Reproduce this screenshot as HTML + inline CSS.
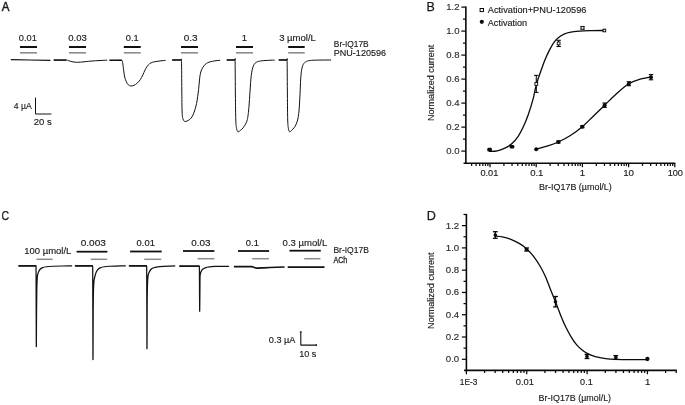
<!DOCTYPE html>
<html><head><meta charset="utf-8"><title>Figure</title>
<style>html,body{margin:0;padding:0;background:#fff}svg{display:block;will-change:transform}</style>
</head><body>
<svg width="685" height="405" viewBox="0 0 685 405" font-family="Liberation Sans, sans-serif">
<rect width="685" height="405" fill="#fff"/>
<text x="1.8" y="11" font-size="12.2" text-anchor="start" fill="#1a1a1a" textLength="7.7" lengthAdjust="spacingAndGlyphs" stroke="#1a1a1a" stroke-width="0.45">A</text>
<text x="426.4" y="11" font-size="12.2" text-anchor="start" fill="#1a1a1a" textLength="8.3" lengthAdjust="spacingAndGlyphs" stroke="#1a1a1a" stroke-width="0.25">B</text>
<text x="1.5" y="220" font-size="12.2" text-anchor="start" fill="#1a1a1a" textLength="7.6" lengthAdjust="spacingAndGlyphs" stroke="#1a1a1a" stroke-width="0.25">C</text>
<text x="426.8" y="219.8" font-size="12.2" text-anchor="start" fill="#1a1a1a" textLength="9.1" lengthAdjust="spacingAndGlyphs" stroke="#1a1a1a" stroke-width="0.25">D</text>
<line x1="20.00" y1="47.00" x2="37.00" y2="47.00" stroke="#111" stroke-width="2" stroke-linecap="butt"/>
<line x1="20.00" y1="52.80" x2="37.00" y2="52.80" stroke="#8c8c8c" stroke-width="1.6" stroke-linecap="butt"/>
<text x="18.8" y="40.8" font-size="9.6" text-anchor="start" fill="#1a1a1a" textLength="18.0" lengthAdjust="spacingAndGlyphs"  stroke="#1a1a1a" stroke-width="0.15">0.01</text>
<line x1="69.00" y1="47.00" x2="86.00" y2="47.00" stroke="#111" stroke-width="2" stroke-linecap="butt"/>
<line x1="69.00" y1="52.80" x2="86.00" y2="52.80" stroke="#8c8c8c" stroke-width="1.6" stroke-linecap="butt"/>
<text x="68.3" y="40.8" font-size="9.6" text-anchor="start" fill="#1a1a1a" textLength="18.5" lengthAdjust="spacingAndGlyphs"  stroke="#1a1a1a" stroke-width="0.15">0.03</text>
<line x1="123.80" y1="47.00" x2="140.70" y2="47.00" stroke="#111" stroke-width="2" stroke-linecap="butt"/>
<line x1="123.80" y1="52.80" x2="140.70" y2="52.80" stroke="#8c8c8c" stroke-width="1.6" stroke-linecap="butt"/>
<text x="125.8" y="40.8" font-size="9.6" text-anchor="start" fill="#1a1a1a" textLength="12.9" lengthAdjust="spacingAndGlyphs"  stroke="#1a1a1a" stroke-width="0.15">0.1</text>
<line x1="181.00" y1="47.00" x2="198.00" y2="47.00" stroke="#111" stroke-width="2" stroke-linecap="butt"/>
<line x1="181.00" y1="52.80" x2="198.00" y2="52.80" stroke="#8c8c8c" stroke-width="1.6" stroke-linecap="butt"/>
<text x="183.7" y="40.8" font-size="9.6" text-anchor="start" fill="#1a1a1a" textLength="13.9" lengthAdjust="spacingAndGlyphs"  stroke="#1a1a1a" stroke-width="0.15">0.3</text>
<line x1="236.00" y1="47.00" x2="253.00" y2="47.00" stroke="#111" stroke-width="2" stroke-linecap="butt"/>
<line x1="236.00" y1="52.80" x2="253.00" y2="52.80" stroke="#8c8c8c" stroke-width="1.6" stroke-linecap="butt"/>
<text x="244.5" y="40.8" font-size="9.6" text-anchor="middle" fill="#1a1a1a"  stroke="#1a1a1a" stroke-width="0.15">1</text>
<line x1="288.20" y1="47.00" x2="304.70" y2="47.00" stroke="#111" stroke-width="2" stroke-linecap="butt"/>
<line x1="288.20" y1="52.80" x2="304.70" y2="52.80" stroke="#8c8c8c" stroke-width="1.6" stroke-linecap="butt"/>
<text x="279.2" y="40.8" font-size="9.6" text-anchor="start" fill="#1a1a1a" textLength="36.7" lengthAdjust="spacingAndGlyphs"  stroke="#1a1a1a" stroke-width="0.15">3 µmol/L</text>
<path d="M11.30,59.70 L30.00,60.00 L50.00,60.30" fill="none" stroke="#111" stroke-width="1.2" stroke-linejoin="round" stroke-linecap="round" />
<path d="M53.90,60.10 C54.92,60.10 57.93,60.10 60.00,60.10 C62.07,60.10 64.80,59.98 66.30,60.10 C67.80,60.22 68.05,60.53 69.00,60.80 C69.95,61.07 70.73,61.45 72.00,61.70 C73.27,61.95 74.93,62.25 76.60,62.30 C78.27,62.35 79.62,62.20 82.00,62.00 C84.38,61.80 87.90,61.35 90.90,61.10 C93.90,60.85 97.37,60.65 100.00,60.50 C102.63,60.35 105.58,60.25 106.70,60.20" fill="none" stroke="#111" stroke-width="1.0" stroke-linejoin="round" stroke-linecap="round" />
<line x1="53.90" y1="60.10" x2="66.30" y2="60.10" stroke="#111" stroke-width="1.4" stroke-linecap="butt"/>
<path d="M109.70,60.30 C110.75,60.30 114.02,60.30 116.00,60.30 C117.98,60.30 120.50,59.95 121.60,60.30 C122.70,60.65 122.25,60.67 122.60,62.40 C122.95,64.13 123.35,68.27 123.70,70.70 C124.05,73.13 124.27,75.18 124.70,77.00 C125.13,78.82 125.70,80.30 126.30,81.60 C126.90,82.90 127.53,84.07 128.30,84.80 C129.07,85.53 129.95,85.92 130.90,86.00 C131.85,86.08 132.95,85.77 134.00,85.30 C135.05,84.83 136.15,84.15 137.20,83.20 C138.25,82.25 139.35,80.98 140.30,79.60 C141.25,78.22 142.13,76.47 142.90,74.90 C143.67,73.33 144.22,71.58 144.90,70.20 C145.58,68.82 146.22,67.68 147.00,66.60 C147.78,65.52 148.65,64.43 149.60,63.70 C150.55,62.97 151.48,62.58 152.70,62.20 C153.92,61.82 155.52,61.63 156.90,61.40 C158.28,61.17 159.62,60.97 161.00,60.80 C162.38,60.63 164.50,60.47 165.20,60.40" fill="none" stroke="#111" stroke-width="1.0" stroke-linejoin="round" stroke-linecap="round" />
<line x1="109.70" y1="60.30" x2="121.80" y2="60.30" stroke="#111" stroke-width="1.4" stroke-linecap="butt"/>
<path d="M172.30,60.00 C173.68,60.00 179.07,59.75 180.60,60.00 C182.13,60.25 181.30,56.50 181.50,61.50 C181.70,66.50 181.70,81.58 181.80,90.00 C181.90,98.42 181.90,107.17 182.10,112.00 C182.30,116.83 182.55,117.42 183.00,119.00 C183.45,120.58 184.13,121.17 184.80,121.50 C185.47,121.83 186.18,121.33 187.00,121.00 C187.82,120.67 188.87,120.20 189.70,119.50 C190.53,118.80 191.33,117.85 192.00,116.80 C192.67,115.75 193.15,114.58 193.70,113.20 C194.25,111.82 194.82,110.15 195.30,108.50 C195.78,106.85 196.20,105.30 196.60,103.30 C197.00,101.30 197.37,98.80 197.70,96.50 C198.03,94.20 198.33,91.92 198.60,89.50 C198.87,87.08 199.07,84.30 199.30,82.00 C199.53,79.70 199.70,77.53 200.00,75.70 C200.30,73.87 200.67,72.32 201.10,71.00 C201.53,69.68 202.07,68.75 202.60,67.80 C203.13,66.85 203.65,66.03 204.30,65.30 C204.95,64.57 205.72,63.92 206.50,63.40 C207.28,62.88 208.02,62.55 209.00,62.20 C209.98,61.85 211.23,61.55 212.40,61.30 C213.57,61.05 214.77,60.87 216.00,60.70 C217.23,60.53 219.17,60.37 219.80,60.30" fill="none" stroke="#111" stroke-width="1.0" stroke-linejoin="round" stroke-linecap="round" />
<line x1="172.30" y1="60.00" x2="181.20" y2="60.00" stroke="#111" stroke-width="1.4" stroke-linecap="butt"/>
<path d="M226.90,60.00 C228.18,60.00 233.23,59.75 234.60,60.00 C235.97,60.25 234.97,55.67 235.10,61.50 C235.23,67.33 235.28,85.25 235.40,95.00 C235.52,104.75 235.60,114.42 235.80,120.00 C236.00,125.58 236.23,126.53 236.60,128.50 C236.97,130.47 237.35,131.50 238.00,131.80 C238.65,132.10 239.65,130.97 240.50,130.30 C241.35,129.63 242.18,128.97 243.10,127.80 C244.02,126.63 245.30,124.68 246.00,123.30 C246.70,121.92 246.93,120.98 247.30,119.50 C247.67,118.02 247.90,116.82 248.20,114.40 C248.50,111.98 248.83,108.33 249.10,105.00 C249.37,101.67 249.58,97.57 249.80,94.40 C250.02,91.23 250.22,88.58 250.40,86.00 C250.58,83.42 250.68,81.15 250.90,78.90 C251.12,76.65 251.40,74.35 251.70,72.50 C252.00,70.65 252.33,69.08 252.70,67.80 C253.07,66.52 253.47,65.62 253.90,64.80 C254.33,63.98 254.73,63.40 255.30,62.90 C255.87,62.40 256.55,62.10 257.30,61.80 C258.05,61.50 258.52,61.32 259.80,61.10 C261.08,60.88 262.60,60.67 265.00,60.50 C267.40,60.33 272.67,60.17 274.20,60.10" fill="none" stroke="#111" stroke-width="1.0" stroke-linejoin="round" stroke-linecap="round" />
<line x1="226.90" y1="60.00" x2="235.00" y2="60.00" stroke="#111" stroke-width="1.4" stroke-linecap="butt"/>
<path d="M278.90,60.00 C280.18,60.00 285.23,59.75 286.60,60.00 C287.97,60.25 286.97,55.67 287.10,61.50 C287.23,67.33 287.30,85.25 287.40,95.00 C287.50,104.75 287.53,114.42 287.70,120.00 C287.87,125.58 288.08,126.53 288.40,128.50 C288.72,130.47 289.03,131.52 289.60,131.80 C290.17,132.08 291.07,130.87 291.80,130.20 C292.53,129.53 293.33,128.67 294.00,127.80 C294.67,126.93 295.25,126.12 295.80,125.00 C296.35,123.88 296.88,122.52 297.30,121.10 C297.72,119.68 298.00,118.35 298.30,116.50 C298.60,114.65 298.88,112.42 299.10,110.00 C299.32,107.58 299.45,104.60 299.60,102.00 C299.75,99.40 299.88,97.07 300.00,94.40 C300.12,91.73 300.23,88.58 300.35,86.00 C300.47,83.42 300.56,81.07 300.70,78.90 C300.84,76.73 301.02,74.67 301.20,73.00 C301.38,71.33 301.53,70.17 301.80,68.90 C302.07,67.63 302.43,66.33 302.80,65.40 C303.17,64.47 303.55,63.87 304.00,63.30 C304.45,62.73 304.95,62.37 305.50,62.00 C306.05,61.63 306.55,61.35 307.30,61.10 C308.05,60.85 308.88,60.65 310.00,60.50 C311.12,60.35 312.00,60.28 314.00,60.20 C316.00,60.12 319.22,60.08 322.00,60.05 C324.78,60.02 329.25,60.01 330.70,60.00" fill="none" stroke="#111" stroke-width="1.0" stroke-linejoin="round" stroke-linecap="round" />
<line x1="278.90" y1="60.00" x2="287.00" y2="60.00" stroke="#111" stroke-width="1.4" stroke-linecap="butt"/>
<text x="333.8" y="46.6" font-size="9.6" text-anchor="start" fill="#1a1a1a" textLength="34.9" lengthAdjust="spacingAndGlyphs"  stroke="#1a1a1a" stroke-width="0.15">Br-IQ17B</text>
<text x="333.8" y="56" font-size="9.6" text-anchor="start" fill="#1a1a1a" textLength="52.2" lengthAdjust="spacingAndGlyphs"  stroke="#1a1a1a" stroke-width="0.15">PNU-120596</text>
<path d="M35.5,98 L35.5,114 L51,114" fill="none" stroke="#111" stroke-width="1" stroke-linejoin="round" stroke-linecap="round" stroke-linecap="butt" stroke-linejoin="miter"/>
<text x="13.8" y="108.6" font-size="9.6" text-anchor="start" fill="#1a1a1a" textLength="18.0" lengthAdjust="spacingAndGlyphs"  stroke="#1a1a1a" stroke-width="0.15">4 µA</text>
<text x="33.8" y="124.6" font-size="9.6" text-anchor="start" fill="#1a1a1a" textLength="18.0" lengthAdjust="spacingAndGlyphs"  stroke="#1a1a1a" stroke-width="0.15">20 s</text>
<line x1="36.40" y1="259.30" x2="52.60" y2="259.30" stroke="#8c8c8c" stroke-width="1.5" stroke-linecap="butt"/>
<text x="24.2" y="254.1" font-size="9.6" text-anchor="start" fill="#1a1a1a" textLength="47.2" lengthAdjust="spacingAndGlyphs"  stroke="#1a1a1a" stroke-width="0.15">100 µmol/L</text>
<line x1="76.60" y1="251.70" x2="107.40" y2="251.70" stroke="#111" stroke-width="1.8" stroke-linecap="butt"/>
<line x1="90.70" y1="259.30" x2="107.20" y2="259.30" stroke="#8c8c8c" stroke-width="1.5" stroke-linecap="butt"/>
<text x="80.7" y="246" font-size="9.6" text-anchor="start" fill="#1a1a1a" textLength="25.1" lengthAdjust="spacingAndGlyphs"  stroke="#1a1a1a" stroke-width="0.15">0.003</text>
<line x1="130.10" y1="251.50" x2="161.70" y2="251.50" stroke="#111" stroke-width="1.8" stroke-linecap="butt"/>
<line x1="144.20" y1="259.30" x2="161.30" y2="259.30" stroke="#8c8c8c" stroke-width="1.5" stroke-linecap="butt"/>
<text x="136.6" y="246" font-size="9.6" text-anchor="start" fill="#1a1a1a" textLength="18.4" lengthAdjust="spacingAndGlyphs"  stroke="#1a1a1a" stroke-width="0.15">0.01</text>
<line x1="183.00" y1="251.00" x2="214.40" y2="251.00" stroke="#111" stroke-width="1.8" stroke-linecap="butt"/>
<line x1="197.60" y1="258.70" x2="214.40" y2="258.70" stroke="#8c8c8c" stroke-width="1.5" stroke-linecap="butt"/>
<text x="191.3" y="246" font-size="9.6" text-anchor="start" fill="#1a1a1a" textLength="19.2" lengthAdjust="spacingAndGlyphs"  stroke="#1a1a1a" stroke-width="0.15">0.03</text>
<line x1="238.00" y1="251.00" x2="269.10" y2="251.00" stroke="#111" stroke-width="1.8" stroke-linecap="butt"/>
<line x1="252.20" y1="258.70" x2="269.10" y2="258.70" stroke="#8c8c8c" stroke-width="1.5" stroke-linecap="butt"/>
<text x="245.8" y="246" font-size="9.6" text-anchor="start" fill="#1a1a1a" textLength="13.1" lengthAdjust="spacingAndGlyphs"  stroke="#1a1a1a" stroke-width="0.15">0.1</text>
<line x1="289.50" y1="250.70" x2="320.80" y2="250.70" stroke="#111" stroke-width="1.8" stroke-linecap="butt"/>
<line x1="304.20" y1="258.70" x2="320.50" y2="258.70" stroke="#8c8c8c" stroke-width="1.5" stroke-linecap="butt"/>
<text x="282.6" y="246" font-size="9.6" text-anchor="start" fill="#1a1a1a" textLength="44.7" lengthAdjust="spacingAndGlyphs"  stroke="#1a1a1a" stroke-width="0.15">0.3 µmol/L</text>
<path d="M18.70,265.85 L35.55,265.85 Q36.05,265.85 36.05,267.05 L36.30,346.50 L36.35,346.50 C36.38,340.56 36.47,320.29 36.55,310.85 C36.62,301.41 36.67,295.55 36.80,289.85 C36.93,284.15 37.08,279.57 37.35,276.65 C37.62,273.73 37.94,273.58 38.40,272.35 C38.86,271.12 39.38,270.05 40.10,269.25 C40.82,268.45 41.62,267.97 42.70,267.55 C43.78,267.13 44.96,266.97 46.60,266.75 C48.24,266.53 49.97,266.38 52.55,266.25 C55.12,266.12 58.88,266.05 62.05,266.00 C65.22,265.95 70.01,265.96 71.60,265.95" fill="none" stroke="#111" stroke-width="1.25" stroke-linejoin="round" stroke-linecap="round" stroke-linecap="butt" stroke-linejoin="miter"/>
<line x1="18.70" y1="265.85" x2="36.35" y2="265.85" stroke="#111" stroke-width="1.5" stroke-linecap="butt"/>
<path d="M75.20,265.85 L92.20,265.85 Q92.70,265.85 92.70,267.05 L92.95,359.50 L93.00,359.50 C93.03,351.39 93.12,322.46 93.20,310.85 C93.28,299.24 93.37,294.83 93.50,289.85 C93.63,284.87 93.73,283.30 94.00,280.95 C94.27,278.60 94.70,277.27 95.10,275.75 C95.50,274.23 95.90,272.93 96.40,271.85 C96.90,270.77 97.38,269.97 98.10,269.25 C98.82,268.53 99.68,267.97 100.70,267.55 C101.72,267.13 102.75,266.97 104.20,266.75 C105.65,266.53 107.38,266.37 109.40,266.25 C111.42,266.13 113.65,266.10 116.30,266.05 C118.95,266.00 123.80,265.97 125.30,265.95" fill="none" stroke="#111" stroke-width="1.25" stroke-linejoin="round" stroke-linecap="round" stroke-linecap="butt" stroke-linejoin="miter"/>
<line x1="75.20" y1="265.85" x2="93.00" y2="265.85" stroke="#111" stroke-width="1.5" stroke-linecap="butt"/>
<path d="M129.20,265.85 L146.20,265.85 Q146.70,265.85 146.70,267.05 L146.95,348.70 L147.00,348.70 C147.03,342.39 147.09,320.66 147.15,310.85 C147.21,301.04 147.22,295.55 147.35,289.85 C147.48,284.15 147.64,279.57 147.95,276.65 C148.26,273.73 148.69,273.58 149.20,272.35 C149.71,271.12 150.27,270.02 151.00,269.25 C151.73,268.48 152.52,268.15 153.60,267.75 C154.68,267.35 155.85,267.08 157.50,266.85 C159.15,266.62 161.30,266.48 163.50,266.35 C165.70,266.23 168.82,266.17 170.70,266.10 C172.58,266.03 174.12,265.98 174.80,265.95" fill="none" stroke="#111" stroke-width="1.25" stroke-linejoin="round" stroke-linecap="round" stroke-linecap="butt" stroke-linejoin="miter"/>
<line x1="129.20" y1="265.85" x2="147.00" y2="265.85" stroke="#111" stroke-width="1.5" stroke-linecap="butt"/>
<path d="M179.60,266.20 L198.90,266.20 Q199.40,266.20 199.40,267.40 L199.65,311.20 L199.70,311.20 C199.73,308.70 199.81,300.37 199.85,296.20 C199.89,292.03 199.91,289.62 199.95,286.20 C199.99,282.78 199.93,278.10 200.10,275.70 C200.27,273.30 200.57,272.88 201.00,271.80 C201.43,270.72 201.98,269.87 202.70,269.20 C203.42,268.53 204.22,268.18 205.30,267.80 C206.38,267.42 207.55,267.12 209.20,266.90 C210.85,266.67 213.17,266.55 215.20,266.45 C217.23,266.35 219.17,266.32 221.40,266.30 C223.63,266.28 227.40,266.30 228.60,266.30" fill="none" stroke="#111" stroke-width="1.25" stroke-linejoin="round" stroke-linecap="round" stroke-linecap="butt" stroke-linejoin="miter"/>
<line x1="179.60" y1="266.20" x2="199.70" y2="266.20" stroke="#111" stroke-width="1.5" stroke-linecap="butt"/>
<path d="M234.60,266.70 C236.33,266.70 242.13,266.70 245.00,266.70 C247.87,266.70 250.43,266.65 251.80,266.70 C253.17,266.75 252.70,266.83 253.20,267.00 C253.70,267.17 254.20,267.52 254.80,267.70 C255.40,267.88 255.77,268.06 256.80,268.10 C257.83,268.14 258.80,268.05 261.00,267.95 C263.20,267.85 266.17,267.66 270.00,267.50 C273.83,267.34 281.67,267.08 284.00,267.00" fill="none" stroke="#111" stroke-width="1.7" stroke-linejoin="round" stroke-linecap="round" stroke-linecap="butt"/>
<line x1="287.70" y1="267.10" x2="324.50" y2="267.10" stroke="#111" stroke-width="1.7" stroke-linecap="butt"/>
<text x="333.4" y="253.1" font-size="9.6" text-anchor="start" fill="#1a1a1a" textLength="35.5" lengthAdjust="spacingAndGlyphs"  stroke="#1a1a1a" stroke-width="0.15">Br-IQ17B</text>
<text x="333.4" y="263" font-size="9.6" text-anchor="start" fill="#1a1a1a" textLength="13.9" lengthAdjust="spacingAndGlyphs" stroke="#1a1a1a" stroke-width="0.3">ACh</text>
<path d="M300.8,332 L300.8,345.1 L316.3,345.1" fill="none" stroke="#111" stroke-width="1.1" stroke-linejoin="round" stroke-linecap="round" stroke-linecap="butt" stroke-linejoin="miter"/>
<line x1="299.80" y1="332.00" x2="301.80" y2="332.00" stroke="#111" stroke-width="1" stroke-linecap="butt"/>
<line x1="316.30" y1="344.10" x2="316.30" y2="346.10" stroke="#111" stroke-width="1" stroke-linecap="butt"/>
<text x="268.8" y="342.9" font-size="9.6" text-anchor="start" fill="#1a1a1a" textLength="26.6" lengthAdjust="spacingAndGlyphs"  stroke="#1a1a1a" stroke-width="0.15">0.3 µA</text>
<text x="299.2" y="357.2" font-size="9.6" text-anchor="start" fill="#1a1a1a" textLength="17.1" lengthAdjust="spacingAndGlyphs"  stroke="#1a1a1a" stroke-width="0.15">10 s</text>
<line x1="465.85" y1="6.40" x2="465.85" y2="164.10" stroke="#0a0a0a" stroke-width="1.6" stroke-linecap="butt"/>
<line x1="463.55" y1="163.30" x2="675.30" y2="163.30" stroke="#0a0a0a" stroke-width="1.6" stroke-linecap="butt"/>
<line x1="461.35" y1="151.10" x2="465.85" y2="151.10" stroke="#0a0a0a" stroke-width="1.25" stroke-linecap="butt"/>
<text x="459.6" y="153.9" font-size="9.6" text-anchor="end" fill="#2e2e2e" textLength="13.3" lengthAdjust="spacingAndGlyphs"  stroke="#2e2e2e" stroke-width="0.15">0.0</text>
<line x1="462.95" y1="139.10" x2="465.85" y2="139.10" stroke="#0a0a0a" stroke-width="1.25" stroke-linecap="butt"/>
<line x1="461.35" y1="127.10" x2="465.85" y2="127.10" stroke="#0a0a0a" stroke-width="1.25" stroke-linecap="butt"/>
<text x="459.6" y="129.9" font-size="9.6" text-anchor="end" fill="#2e2e2e" textLength="13.3" lengthAdjust="spacingAndGlyphs"  stroke="#2e2e2e" stroke-width="0.15">0.2</text>
<line x1="462.95" y1="115.10" x2="465.85" y2="115.10" stroke="#0a0a0a" stroke-width="1.25" stroke-linecap="butt"/>
<line x1="461.35" y1="103.10" x2="465.85" y2="103.10" stroke="#0a0a0a" stroke-width="1.25" stroke-linecap="butt"/>
<text x="459.6" y="105.89999999999999" font-size="9.6" text-anchor="end" fill="#2e2e2e" textLength="13.3" lengthAdjust="spacingAndGlyphs"  stroke="#2e2e2e" stroke-width="0.15">0.4</text>
<line x1="462.95" y1="91.10" x2="465.85" y2="91.10" stroke="#0a0a0a" stroke-width="1.25" stroke-linecap="butt"/>
<line x1="461.35" y1="79.10" x2="465.85" y2="79.10" stroke="#0a0a0a" stroke-width="1.25" stroke-linecap="butt"/>
<text x="459.6" y="81.89999999999998" font-size="9.6" text-anchor="end" fill="#2e2e2e" textLength="13.3" lengthAdjust="spacingAndGlyphs"  stroke="#2e2e2e" stroke-width="0.15">0.6</text>
<line x1="462.95" y1="67.10" x2="465.85" y2="67.10" stroke="#0a0a0a" stroke-width="1.25" stroke-linecap="butt"/>
<line x1="461.35" y1="55.10" x2="465.85" y2="55.10" stroke="#0a0a0a" stroke-width="1.25" stroke-linecap="butt"/>
<text x="459.6" y="57.89999999999999" font-size="9.6" text-anchor="end" fill="#2e2e2e" textLength="13.3" lengthAdjust="spacingAndGlyphs"  stroke="#2e2e2e" stroke-width="0.15">0.8</text>
<line x1="462.95" y1="43.10" x2="465.85" y2="43.10" stroke="#0a0a0a" stroke-width="1.25" stroke-linecap="butt"/>
<line x1="461.35" y1="31.10" x2="465.85" y2="31.10" stroke="#0a0a0a" stroke-width="1.25" stroke-linecap="butt"/>
<text x="459.6" y="33.89999999999999" font-size="9.6" text-anchor="end" fill="#2e2e2e" textLength="13.3" lengthAdjust="spacingAndGlyphs"  stroke="#2e2e2e" stroke-width="0.15">1.0</text>
<line x1="462.95" y1="19.10" x2="465.85" y2="19.10" stroke="#0a0a0a" stroke-width="1.25" stroke-linecap="butt"/>
<line x1="461.35" y1="7.10" x2="465.85" y2="7.10" stroke="#0a0a0a" stroke-width="1.25" stroke-linecap="butt"/>
<text x="459.6" y="9.899999999999967" font-size="9.6" text-anchor="end" fill="#2e2e2e" textLength="13.3" lengthAdjust="spacingAndGlyphs"  stroke="#2e2e2e" stroke-width="0.15">1.2</text>
<line x1="490.00" y1="163.30" x2="490.00" y2="167.20" stroke="#0a0a0a" stroke-width="1.25" stroke-linecap="butt"/>
<line x1="503.91" y1="163.30" x2="503.91" y2="165.90" stroke="#0a0a0a" stroke-width="1.25" stroke-linecap="butt"/>
<line x1="512.04" y1="163.30" x2="512.04" y2="165.90" stroke="#0a0a0a" stroke-width="1.25" stroke-linecap="butt"/>
<line x1="517.82" y1="163.30" x2="517.82" y2="165.90" stroke="#0a0a0a" stroke-width="1.25" stroke-linecap="butt"/>
<line x1="522.29" y1="163.30" x2="522.29" y2="165.90" stroke="#0a0a0a" stroke-width="1.25" stroke-linecap="butt"/>
<line x1="525.95" y1="163.30" x2="525.95" y2="165.90" stroke="#0a0a0a" stroke-width="1.25" stroke-linecap="butt"/>
<line x1="529.04" y1="163.30" x2="529.04" y2="165.90" stroke="#0a0a0a" stroke-width="1.25" stroke-linecap="butt"/>
<line x1="531.72" y1="163.30" x2="531.72" y2="165.90" stroke="#0a0a0a" stroke-width="1.25" stroke-linecap="butt"/>
<line x1="534.09" y1="163.30" x2="534.09" y2="165.90" stroke="#0a0a0a" stroke-width="1.25" stroke-linecap="butt"/>
<line x1="536.20" y1="163.30" x2="536.20" y2="167.20" stroke="#0a0a0a" stroke-width="1.25" stroke-linecap="butt"/>
<line x1="550.11" y1="163.30" x2="550.11" y2="165.90" stroke="#0a0a0a" stroke-width="1.25" stroke-linecap="butt"/>
<line x1="558.24" y1="163.30" x2="558.24" y2="165.90" stroke="#0a0a0a" stroke-width="1.25" stroke-linecap="butt"/>
<line x1="564.02" y1="163.30" x2="564.02" y2="165.90" stroke="#0a0a0a" stroke-width="1.25" stroke-linecap="butt"/>
<line x1="568.49" y1="163.30" x2="568.49" y2="165.90" stroke="#0a0a0a" stroke-width="1.25" stroke-linecap="butt"/>
<line x1="572.15" y1="163.30" x2="572.15" y2="165.90" stroke="#0a0a0a" stroke-width="1.25" stroke-linecap="butt"/>
<line x1="575.24" y1="163.30" x2="575.24" y2="165.90" stroke="#0a0a0a" stroke-width="1.25" stroke-linecap="butt"/>
<line x1="577.92" y1="163.30" x2="577.92" y2="165.90" stroke="#0a0a0a" stroke-width="1.25" stroke-linecap="butt"/>
<line x1="580.29" y1="163.30" x2="580.29" y2="165.90" stroke="#0a0a0a" stroke-width="1.25" stroke-linecap="butt"/>
<line x1="582.40" y1="163.30" x2="582.40" y2="167.20" stroke="#0a0a0a" stroke-width="1.25" stroke-linecap="butt"/>
<line x1="596.31" y1="163.30" x2="596.31" y2="165.90" stroke="#0a0a0a" stroke-width="1.25" stroke-linecap="butt"/>
<line x1="604.44" y1="163.30" x2="604.44" y2="165.90" stroke="#0a0a0a" stroke-width="1.25" stroke-linecap="butt"/>
<line x1="610.22" y1="163.30" x2="610.22" y2="165.90" stroke="#0a0a0a" stroke-width="1.25" stroke-linecap="butt"/>
<line x1="614.69" y1="163.30" x2="614.69" y2="165.90" stroke="#0a0a0a" stroke-width="1.25" stroke-linecap="butt"/>
<line x1="618.35" y1="163.30" x2="618.35" y2="165.90" stroke="#0a0a0a" stroke-width="1.25" stroke-linecap="butt"/>
<line x1="621.44" y1="163.30" x2="621.44" y2="165.90" stroke="#0a0a0a" stroke-width="1.25" stroke-linecap="butt"/>
<line x1="624.12" y1="163.30" x2="624.12" y2="165.90" stroke="#0a0a0a" stroke-width="1.25" stroke-linecap="butt"/>
<line x1="626.49" y1="163.30" x2="626.49" y2="165.90" stroke="#0a0a0a" stroke-width="1.25" stroke-linecap="butt"/>
<line x1="628.60" y1="163.30" x2="628.60" y2="167.20" stroke="#0a0a0a" stroke-width="1.25" stroke-linecap="butt"/>
<line x1="642.51" y1="163.30" x2="642.51" y2="165.90" stroke="#0a0a0a" stroke-width="1.25" stroke-linecap="butt"/>
<line x1="650.64" y1="163.30" x2="650.64" y2="165.90" stroke="#0a0a0a" stroke-width="1.25" stroke-linecap="butt"/>
<line x1="656.42" y1="163.30" x2="656.42" y2="165.90" stroke="#0a0a0a" stroke-width="1.25" stroke-linecap="butt"/>
<line x1="660.89" y1="163.30" x2="660.89" y2="165.90" stroke="#0a0a0a" stroke-width="1.25" stroke-linecap="butt"/>
<line x1="664.55" y1="163.30" x2="664.55" y2="165.90" stroke="#0a0a0a" stroke-width="1.25" stroke-linecap="butt"/>
<line x1="667.64" y1="163.30" x2="667.64" y2="165.90" stroke="#0a0a0a" stroke-width="1.25" stroke-linecap="butt"/>
<line x1="670.32" y1="163.30" x2="670.32" y2="165.90" stroke="#0a0a0a" stroke-width="1.25" stroke-linecap="butt"/>
<line x1="672.69" y1="163.30" x2="672.69" y2="165.90" stroke="#0a0a0a" stroke-width="1.25" stroke-linecap="butt"/>
<line x1="674.80" y1="163.30" x2="674.80" y2="167.20" stroke="#0a0a0a" stroke-width="1.25" stroke-linecap="butt"/>
<line x1="471.62" y1="163.30" x2="471.62" y2="165.90" stroke="#0a0a0a" stroke-width="1.25" stroke-linecap="butt"/>
<line x1="476.09" y1="163.30" x2="476.09" y2="165.90" stroke="#0a0a0a" stroke-width="1.25" stroke-linecap="butt"/>
<line x1="479.75" y1="163.30" x2="479.75" y2="165.90" stroke="#0a0a0a" stroke-width="1.25" stroke-linecap="butt"/>
<line x1="482.84" y1="163.30" x2="482.84" y2="165.90" stroke="#0a0a0a" stroke-width="1.25" stroke-linecap="butt"/>
<line x1="485.52" y1="163.30" x2="485.52" y2="165.90" stroke="#0a0a0a" stroke-width="1.25" stroke-linecap="butt"/>
<line x1="487.89" y1="163.30" x2="487.89" y2="165.90" stroke="#0a0a0a" stroke-width="1.25" stroke-linecap="butt"/>
<text x="489.4" y="176.3" font-size="9.6" text-anchor="middle" fill="#1a1a1a" textLength="18.0" lengthAdjust="spacingAndGlyphs"  stroke="#1a1a1a" stroke-width="0.15">0.01</text>
<text x="536.8000000000001" y="176.3" font-size="9.6" text-anchor="middle" fill="#1a1a1a" textLength="13.3" lengthAdjust="spacingAndGlyphs"  stroke="#1a1a1a" stroke-width="0.15">0.1</text>
<text x="582.4" y="176.3" font-size="9.6" text-anchor="middle" fill="#1a1a1a"  stroke="#1a1a1a" stroke-width="0.15">1</text>
<text x="628.6" y="176.3" font-size="9.6" text-anchor="middle" fill="#1a1a1a" textLength="10.9" lengthAdjust="spacingAndGlyphs"  stroke="#1a1a1a" stroke-width="0.15">10</text>
<text x="675.3" y="176.3" font-size="9.6" text-anchor="middle" fill="#1a1a1a" textLength="15.3" lengthAdjust="spacingAndGlyphs"  stroke="#1a1a1a" stroke-width="0.15">100</text>
<text x="539.1" y="189.9" font-size="9.6" text-anchor="start" fill="#1a1a1a" textLength="72.7" lengthAdjust="spacingAndGlyphs"  stroke="#1a1a1a" stroke-width="0.15">Br-IQ17B (µmol/L)</text>
<text transform="translate(434.3,120.9) rotate(-90)" font-size="9.6" fill="#1a1a1a" stroke="#1a1a1a" stroke-width="0.15" textLength="76.1" lengthAdjust="spacingAndGlyphs">Normalized current</text>
<rect x="480.1" y="8.5" width="3.4" height="3.1" fill="#fff" stroke="#0a0a0a" stroke-width="1"/>
<circle cx="481.8" cy="21.8" r="2.1" fill="#0a0a0a"/>
<text x="487.8" y="13.4" font-size="9.6" text-anchor="start" fill="#1a1a1a" textLength="98.6" lengthAdjust="spacingAndGlyphs"  stroke="#1a1a1a" stroke-width="0.15">Activation+PNU-120596</text>
<text x="487.8" y="25.6" font-size="9.6" text-anchor="start" fill="#1a1a1a" textLength="39.3" lengthAdjust="spacingAndGlyphs"  stroke="#1a1a1a" stroke-width="0.15">Activation</text>
<path d="M489.60,151.40 C490.88,151.30 494.58,151.43 497.30,150.80 C500.02,150.17 503.45,148.80 505.90,147.60 C508.35,146.40 509.98,145.42 512.00,143.60 C514.02,141.78 516.13,139.45 518.00,136.70 C519.87,133.95 521.47,130.85 523.20,127.10 C524.93,123.35 526.73,118.95 528.40,114.20 C530.07,109.45 532.05,102.80 533.20,98.60 C534.35,94.40 534.52,92.18 535.30,89.00 C536.08,85.82 536.88,82.75 537.90,79.50 C538.92,76.25 540.25,72.72 541.40,69.50 C542.55,66.28 543.42,63.52 544.80,60.20 C546.18,56.88 548.05,52.73 549.70,49.60 C551.35,46.47 553.05,43.53 554.70,41.40 C556.35,39.27 557.95,38.05 559.60,36.80 C561.25,35.55 562.95,34.63 564.60,33.90 C566.25,33.17 567.03,32.85 569.50,32.40 C571.97,31.95 575.98,31.48 579.40,31.20 C582.82,30.92 585.83,30.82 590.00,30.70 C594.17,30.58 602.00,30.53 604.40,30.50" fill="none" stroke="#0a0a0a" stroke-width="1.3" stroke-linejoin="round" stroke-linecap="round" />
<path d="M536.20,149.10 C538.00,148.62 543.30,147.38 547.00,146.20 C550.70,145.02 554.57,143.73 558.40,142.00 C562.23,140.27 566.02,138.35 570.00,135.80 C573.98,133.25 578.38,130.00 582.30,126.70 C586.22,123.40 589.78,119.58 593.50,116.00 C597.22,112.42 600.68,109.00 604.60,105.20 C608.52,101.40 612.97,96.78 617.00,93.20 C621.03,89.62 624.97,86.03 628.80,83.70 C632.63,81.37 636.30,80.32 640.00,79.20 C643.70,78.08 649.17,77.37 651.00,77.00" fill="none" stroke="#0a0a0a" stroke-width="1.3" stroke-linejoin="round" stroke-linecap="round" />
<rect x="487.3" y="147.8" width="4.6" height="3.6" rx="1.2" fill="#0a0a0a"/>
<rect x="509.7" y="145.0" width="4.6" height="3.5" rx="1.3" fill="#0a0a0a"/>
<line x1="536.30" y1="75.40" x2="536.30" y2="92.40" stroke="#0a0a0a" stroke-width="1.1" stroke-linecap="butt"/>
<line x1="534.10" y1="75.40" x2="538.50" y2="75.40" stroke="#0a0a0a" stroke-width="1.1" stroke-linecap="butt"/>
<line x1="534.10" y1="92.40" x2="538.50" y2="92.40" stroke="#0a0a0a" stroke-width="1.1" stroke-linecap="butt"/>
<rect x="534.90" y="82.50" width="2.8" height="2.8" fill="#fff" stroke="#0a0a0a" stroke-width="0.9"/>
<line x1="558.60" y1="40.30" x2="558.60" y2="46.50" stroke="#0a0a0a" stroke-width="1.1" stroke-linecap="butt"/>
<line x1="556.40" y1="40.30" x2="560.80" y2="40.30" stroke="#0a0a0a" stroke-width="1.1" stroke-linecap="butt"/>
<line x1="556.40" y1="46.50" x2="560.80" y2="46.50" stroke="#0a0a0a" stroke-width="1.1" stroke-linecap="butt"/>
<rect x="557.20" y="42.00" width="2.8" height="2.8" fill="#fff" stroke="#0a0a0a" stroke-width="0.9"/>
<line x1="582.50" y1="26.60" x2="582.50" y2="29.00" stroke="#0a0a0a" stroke-width="1.1" stroke-linecap="butt"/>
<line x1="580.30" y1="26.60" x2="584.70" y2="26.60" stroke="#0a0a0a" stroke-width="1.1" stroke-linecap="butt"/>
<line x1="580.30" y1="29.00" x2="584.70" y2="29.00" stroke="#0a0a0a" stroke-width="1.1" stroke-linecap="butt"/>
<rect x="581.10" y="26.40" width="2.8" height="2.8" fill="#fff" stroke="#0a0a0a" stroke-width="0.9"/>
<line x1="604.40" y1="29.50" x2="604.40" y2="31.50" stroke="#0a0a0a" stroke-width="1.1" stroke-linecap="butt"/>
<line x1="602.80" y1="29.50" x2="606.00" y2="29.50" stroke="#0a0a0a" stroke-width="1.1" stroke-linecap="butt"/>
<line x1="602.80" y1="31.50" x2="606.00" y2="31.50" stroke="#0a0a0a" stroke-width="1.1" stroke-linecap="butt"/>
<rect x="603.10" y="29.20" width="2.6" height="2.6" fill="#fff" stroke="#0a0a0a" stroke-width="0.9"/>
<circle cx="536.20" cy="149.20" r="2.0" fill="#0a0a0a"/>
<line x1="558.40" y1="141.00" x2="558.40" y2="143.00" stroke="#0a0a0a" stroke-width="1.1" stroke-linecap="butt"/>
<line x1="556.20" y1="141.00" x2="560.60" y2="141.00" stroke="#0a0a0a" stroke-width="1.1" stroke-linecap="butt"/>
<line x1="556.20" y1="143.00" x2="560.60" y2="143.00" stroke="#0a0a0a" stroke-width="1.1" stroke-linecap="butt"/>
<circle cx="558.40" cy="142.00" r="2.0" fill="#0a0a0a"/>
<line x1="582.30" y1="125.70" x2="582.30" y2="127.70" stroke="#0a0a0a" stroke-width="1.1" stroke-linecap="butt"/>
<line x1="580.10" y1="125.70" x2="584.50" y2="125.70" stroke="#0a0a0a" stroke-width="1.1" stroke-linecap="butt"/>
<line x1="580.10" y1="127.70" x2="584.50" y2="127.70" stroke="#0a0a0a" stroke-width="1.1" stroke-linecap="butt"/>
<circle cx="582.30" cy="126.70" r="2.0" fill="#0a0a0a"/>
<line x1="604.60" y1="103.00" x2="604.60" y2="107.40" stroke="#0a0a0a" stroke-width="1.1" stroke-linecap="butt"/>
<line x1="602.40" y1="103.00" x2="606.80" y2="103.00" stroke="#0a0a0a" stroke-width="1.1" stroke-linecap="butt"/>
<line x1="602.40" y1="107.40" x2="606.80" y2="107.40" stroke="#0a0a0a" stroke-width="1.1" stroke-linecap="butt"/>
<circle cx="604.60" cy="105.20" r="2.0" fill="#0a0a0a"/>
<line x1="628.80" y1="81.70" x2="628.80" y2="85.70" stroke="#0a0a0a" stroke-width="1.1" stroke-linecap="butt"/>
<line x1="626.60" y1="81.70" x2="631.00" y2="81.70" stroke="#0a0a0a" stroke-width="1.1" stroke-linecap="butt"/>
<line x1="626.60" y1="85.70" x2="631.00" y2="85.70" stroke="#0a0a0a" stroke-width="1.1" stroke-linecap="butt"/>
<circle cx="628.80" cy="83.70" r="2.0" fill="#0a0a0a"/>
<line x1="651.00" y1="74.60" x2="651.00" y2="79.80" stroke="#0a0a0a" stroke-width="1.1" stroke-linecap="butt"/>
<line x1="648.80" y1="74.60" x2="653.20" y2="74.60" stroke="#0a0a0a" stroke-width="1.1" stroke-linecap="butt"/>
<line x1="648.80" y1="79.80" x2="653.20" y2="79.80" stroke="#0a0a0a" stroke-width="1.1" stroke-linecap="butt"/>
<circle cx="651.00" cy="77.20" r="2.0" fill="#0a0a0a"/>
<line x1="466.40" y1="213.90" x2="466.40" y2="371.20" stroke="#0a0a0a" stroke-width="1.6" stroke-linecap="butt"/>
<line x1="463.50" y1="214.48" x2="466.40" y2="214.48" stroke="#0a0a0a" stroke-width="1.25" stroke-linecap="butt"/>
<line x1="464.10" y1="370.40" x2="676.84" y2="370.40" stroke="#0a0a0a" stroke-width="1.6" stroke-linecap="butt"/>
<line x1="461.90" y1="359.30" x2="466.40" y2="359.30" stroke="#0a0a0a" stroke-width="1.25" stroke-linecap="butt"/>
<text x="459.2" y="362.2" font-size="9.6" text-anchor="end" fill="#2e2e2e" textLength="13.4" lengthAdjust="spacingAndGlyphs"  stroke="#2e2e2e" stroke-width="0.15">0.0</text>
<line x1="463.50" y1="348.16" x2="466.40" y2="348.16" stroke="#0a0a0a" stroke-width="1.25" stroke-linecap="butt"/>
<line x1="461.90" y1="337.02" x2="466.40" y2="337.02" stroke="#0a0a0a" stroke-width="1.25" stroke-linecap="butt"/>
<text x="459.2" y="339.91999999999996" font-size="9.6" text-anchor="end" fill="#2e2e2e" textLength="13.4" lengthAdjust="spacingAndGlyphs"  stroke="#2e2e2e" stroke-width="0.15">0.2</text>
<line x1="463.50" y1="325.88" x2="466.40" y2="325.88" stroke="#0a0a0a" stroke-width="1.25" stroke-linecap="butt"/>
<line x1="461.90" y1="314.74" x2="466.40" y2="314.74" stroke="#0a0a0a" stroke-width="1.25" stroke-linecap="butt"/>
<text x="459.2" y="317.64" font-size="9.6" text-anchor="end" fill="#2e2e2e" textLength="13.4" lengthAdjust="spacingAndGlyphs"  stroke="#2e2e2e" stroke-width="0.15">0.4</text>
<line x1="463.50" y1="303.60" x2="466.40" y2="303.60" stroke="#0a0a0a" stroke-width="1.25" stroke-linecap="butt"/>
<line x1="461.90" y1="292.46" x2="466.40" y2="292.46" stroke="#0a0a0a" stroke-width="1.25" stroke-linecap="butt"/>
<text x="459.2" y="295.35999999999996" font-size="9.6" text-anchor="end" fill="#2e2e2e" textLength="13.4" lengthAdjust="spacingAndGlyphs"  stroke="#2e2e2e" stroke-width="0.15">0.6</text>
<line x1="463.50" y1="281.32" x2="466.40" y2="281.32" stroke="#0a0a0a" stroke-width="1.25" stroke-linecap="butt"/>
<line x1="461.90" y1="270.18" x2="466.40" y2="270.18" stroke="#0a0a0a" stroke-width="1.25" stroke-linecap="butt"/>
<text x="459.2" y="273.08" font-size="9.6" text-anchor="end" fill="#2e2e2e" textLength="13.4" lengthAdjust="spacingAndGlyphs"  stroke="#2e2e2e" stroke-width="0.15">0.8</text>
<line x1="463.50" y1="259.04" x2="466.40" y2="259.04" stroke="#0a0a0a" stroke-width="1.25" stroke-linecap="butt"/>
<line x1="461.90" y1="247.90" x2="466.40" y2="247.90" stroke="#0a0a0a" stroke-width="1.25" stroke-linecap="butt"/>
<text x="459.2" y="250.8" font-size="9.6" text-anchor="end" fill="#2e2e2e" textLength="13.4" lengthAdjust="spacingAndGlyphs"  stroke="#2e2e2e" stroke-width="0.15">1.0</text>
<line x1="463.50" y1="236.76" x2="466.40" y2="236.76" stroke="#0a0a0a" stroke-width="1.25" stroke-linecap="butt"/>
<line x1="461.90" y1="225.62" x2="466.40" y2="225.62" stroke="#0a0a0a" stroke-width="1.25" stroke-linecap="butt"/>
<text x="459.2" y="228.51999999999998" font-size="9.6" text-anchor="end" fill="#2e2e2e" textLength="13.4" lengthAdjust="spacingAndGlyphs"  stroke="#2e2e2e" stroke-width="0.15">1.2</text>
<line x1="466.40" y1="370.40" x2="466.40" y2="374.30" stroke="#0a0a0a" stroke-width="1.25" stroke-linecap="butt"/>
<line x1="484.57" y1="370.40" x2="484.57" y2="373.00" stroke="#0a0a0a" stroke-width="1.25" stroke-linecap="butt"/>
<line x1="495.19" y1="370.40" x2="495.19" y2="373.00" stroke="#0a0a0a" stroke-width="1.25" stroke-linecap="butt"/>
<line x1="502.73" y1="370.40" x2="502.73" y2="373.00" stroke="#0a0a0a" stroke-width="1.25" stroke-linecap="butt"/>
<line x1="508.58" y1="370.40" x2="508.58" y2="373.00" stroke="#0a0a0a" stroke-width="1.25" stroke-linecap="butt"/>
<line x1="513.36" y1="370.40" x2="513.36" y2="373.00" stroke="#0a0a0a" stroke-width="1.25" stroke-linecap="butt"/>
<line x1="517.40" y1="370.40" x2="517.40" y2="373.00" stroke="#0a0a0a" stroke-width="1.25" stroke-linecap="butt"/>
<line x1="520.90" y1="370.40" x2="520.90" y2="373.00" stroke="#0a0a0a" stroke-width="1.25" stroke-linecap="butt"/>
<line x1="523.99" y1="370.40" x2="523.99" y2="373.00" stroke="#0a0a0a" stroke-width="1.25" stroke-linecap="butt"/>
<line x1="526.75" y1="370.40" x2="526.75" y2="374.30" stroke="#0a0a0a" stroke-width="1.25" stroke-linecap="butt"/>
<line x1="544.92" y1="370.40" x2="544.92" y2="373.00" stroke="#0a0a0a" stroke-width="1.25" stroke-linecap="butt"/>
<line x1="555.54" y1="370.40" x2="555.54" y2="373.00" stroke="#0a0a0a" stroke-width="1.25" stroke-linecap="butt"/>
<line x1="563.08" y1="370.40" x2="563.08" y2="373.00" stroke="#0a0a0a" stroke-width="1.25" stroke-linecap="butt"/>
<line x1="568.93" y1="370.40" x2="568.93" y2="373.00" stroke="#0a0a0a" stroke-width="1.25" stroke-linecap="butt"/>
<line x1="573.71" y1="370.40" x2="573.71" y2="373.00" stroke="#0a0a0a" stroke-width="1.25" stroke-linecap="butt"/>
<line x1="577.75" y1="370.40" x2="577.75" y2="373.00" stroke="#0a0a0a" stroke-width="1.25" stroke-linecap="butt"/>
<line x1="581.25" y1="370.40" x2="581.25" y2="373.00" stroke="#0a0a0a" stroke-width="1.25" stroke-linecap="butt"/>
<line x1="584.34" y1="370.40" x2="584.34" y2="373.00" stroke="#0a0a0a" stroke-width="1.25" stroke-linecap="butt"/>
<line x1="587.10" y1="370.40" x2="587.10" y2="374.30" stroke="#0a0a0a" stroke-width="1.25" stroke-linecap="butt"/>
<line x1="605.27" y1="370.40" x2="605.27" y2="373.00" stroke="#0a0a0a" stroke-width="1.25" stroke-linecap="butt"/>
<line x1="615.89" y1="370.40" x2="615.89" y2="373.00" stroke="#0a0a0a" stroke-width="1.25" stroke-linecap="butt"/>
<line x1="623.43" y1="370.40" x2="623.43" y2="373.00" stroke="#0a0a0a" stroke-width="1.25" stroke-linecap="butt"/>
<line x1="629.28" y1="370.40" x2="629.28" y2="373.00" stroke="#0a0a0a" stroke-width="1.25" stroke-linecap="butt"/>
<line x1="634.06" y1="370.40" x2="634.06" y2="373.00" stroke="#0a0a0a" stroke-width="1.25" stroke-linecap="butt"/>
<line x1="638.10" y1="370.40" x2="638.10" y2="373.00" stroke="#0a0a0a" stroke-width="1.25" stroke-linecap="butt"/>
<line x1="641.60" y1="370.40" x2="641.60" y2="373.00" stroke="#0a0a0a" stroke-width="1.25" stroke-linecap="butt"/>
<line x1="644.69" y1="370.40" x2="644.69" y2="373.00" stroke="#0a0a0a" stroke-width="1.25" stroke-linecap="butt"/>
<line x1="647.45" y1="370.40" x2="647.45" y2="374.30" stroke="#0a0a0a" stroke-width="1.25" stroke-linecap="butt"/>
<line x1="665.62" y1="370.40" x2="665.62" y2="373.00" stroke="#0a0a0a" stroke-width="1.25" stroke-linecap="butt"/>
<line x1="676.24" y1="370.40" x2="676.24" y2="373.00" stroke="#0a0a0a" stroke-width="1.25" stroke-linecap="butt"/>
<text x="459.8" y="385.2" font-size="9.6" text-anchor="start" fill="#1a1a1a" textLength="17.5" lengthAdjust="spacingAndGlyphs"  stroke="#1a1a1a" stroke-width="0.15">1E-3</text>
<text x="515.8" y="385.4" font-size="9.6" text-anchor="start" fill="#1a1a1a" textLength="18.2" lengthAdjust="spacingAndGlyphs"  stroke="#1a1a1a" stroke-width="0.15">0.01</text>
<text x="580.1" y="385.4" font-size="9.6" text-anchor="start" fill="#1a1a1a" textLength="12.6" lengthAdjust="spacingAndGlyphs"  stroke="#1a1a1a" stroke-width="0.15">0.1</text>
<text x="647.7" y="385.2" font-size="9.6" text-anchor="middle" fill="#1a1a1a"  stroke="#1a1a1a" stroke-width="0.15">1</text>
<text x="538.6" y="401.1" font-size="9.6" text-anchor="start" fill="#1a1a1a" textLength="72.5" lengthAdjust="spacingAndGlyphs"  stroke="#1a1a1a" stroke-width="0.15">Br-IQ17B (µmol/L)</text>
<text transform="translate(434.2,328.9) rotate(-90)" font-size="9.6" fill="#1a1a1a" stroke="#1a1a1a" stroke-width="0.15" textLength="76.5" lengthAdjust="spacingAndGlyphs">Normalized current</text>
<path d="M495.00,236.00 C496.22,236.15 499.65,236.35 502.30,236.90 C504.95,237.45 508.02,238.18 510.90,239.30 C513.78,240.42 517.00,242.03 519.60,243.60 C522.20,245.17 524.20,246.62 526.50,248.70 C528.80,250.78 531.10,253.13 533.40,256.10 C535.70,259.07 538.28,263.05 540.30,266.50 C542.32,269.95 543.80,272.97 545.50,276.80 C547.20,280.63 548.82,285.28 550.50,289.50 C552.18,293.72 553.90,297.78 555.60,302.10 C557.30,306.42 558.98,311.20 560.70,315.40 C562.42,319.60 564.17,323.73 565.90,327.30 C567.63,330.87 569.37,333.95 571.10,336.80 C572.83,339.65 574.57,342.27 576.30,344.40 C578.03,346.53 579.77,348.13 581.50,349.60 C583.23,351.07 584.40,352.03 586.70,353.20 C589.00,354.37 592.13,355.70 595.30,356.60 C598.47,357.50 602.25,358.13 605.70,358.60 C609.15,359.07 611.95,359.22 616.00,359.40 C620.05,359.58 624.78,359.65 630.00,359.70 C635.22,359.75 644.42,359.70 647.30,359.70" fill="none" stroke="#0a0a0a" stroke-width="1.3" stroke-linejoin="round" stroke-linecap="round" />
<line x1="495.30" y1="231.70" x2="495.30" y2="238.30" stroke="#0a0a0a" stroke-width="1.3" stroke-linecap="butt"/>
<line x1="492.90" y1="231.70" x2="497.70" y2="231.70" stroke="#0a0a0a" stroke-width="1.3" stroke-linecap="butt"/>
<line x1="492.90" y1="238.30" x2="497.70" y2="238.30" stroke="#0a0a0a" stroke-width="1.3" stroke-linecap="butt"/>
<circle cx="495.30" cy="235.00" r="1.8" fill="#0a0a0a"/>
<line x1="526.60" y1="248.00" x2="526.60" y2="251.00" stroke="#0a0a0a" stroke-width="1.3" stroke-linecap="butt"/>
<line x1="524.20" y1="248.00" x2="529.00" y2="248.00" stroke="#0a0a0a" stroke-width="1.3" stroke-linecap="butt"/>
<line x1="524.20" y1="251.00" x2="529.00" y2="251.00" stroke="#0a0a0a" stroke-width="1.3" stroke-linecap="butt"/>
<circle cx="526.60" cy="249.50" r="1.8" fill="#0a0a0a"/>
<line x1="555.50" y1="296.50" x2="555.50" y2="306.90" stroke="#0a0a0a" stroke-width="1.3" stroke-linecap="butt"/>
<line x1="553.10" y1="296.50" x2="557.90" y2="296.50" stroke="#0a0a0a" stroke-width="1.3" stroke-linecap="butt"/>
<line x1="553.10" y1="306.90" x2="557.90" y2="306.90" stroke="#0a0a0a" stroke-width="1.3" stroke-linecap="butt"/>
<circle cx="555.50" cy="301.70" r="1.8" fill="#0a0a0a"/>
<line x1="587.00" y1="354.50" x2="587.00" y2="358.50" stroke="#0a0a0a" stroke-width="1.3" stroke-linecap="butt"/>
<line x1="584.60" y1="354.50" x2="589.40" y2="354.50" stroke="#0a0a0a" stroke-width="1.3" stroke-linecap="butt"/>
<line x1="584.60" y1="358.50" x2="589.40" y2="358.50" stroke="#0a0a0a" stroke-width="1.3" stroke-linecap="butt"/>
<circle cx="587.00" cy="356.50" r="1.8" fill="#0a0a0a"/>
<line x1="615.80" y1="355.60" x2="615.80" y2="359.40" stroke="#0a0a0a" stroke-width="1.3" stroke-linecap="butt"/>
<line x1="613.40" y1="355.60" x2="618.20" y2="355.60" stroke="#0a0a0a" stroke-width="1.3" stroke-linecap="butt"/>
<line x1="613.40" y1="359.40" x2="618.20" y2="359.40" stroke="#0a0a0a" stroke-width="1.3" stroke-linecap="butt"/>
<circle cx="615.80" cy="357.50" r="1.8" fill="#0a0a0a"/>
<circle cx="647.40" cy="359.00" r="2.15" fill="#0a0a0a"/>
</svg>
</body></html>
